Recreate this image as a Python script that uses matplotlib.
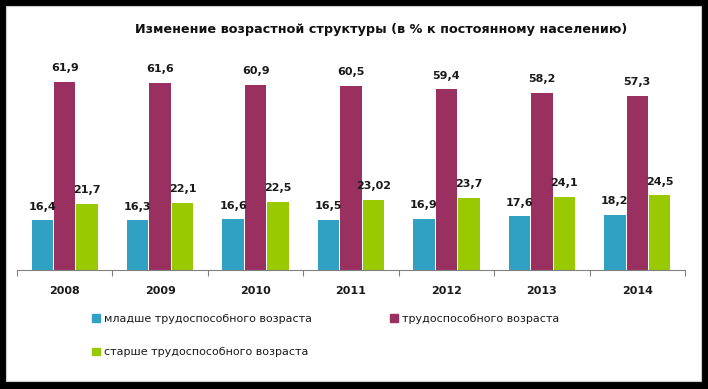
import matplotlib.pyplot as plt
import numpy as np
from matplotlib.patches import Patch, Rectangle

years = ['2008', '2009', '2010', '2011', '2012', '2013', '2014']
young = [16.4, 16.3, 16.6, 16.5, 16.9, 17.6, 18.2]
working = [61.9, 61.6, 60.9, 60.5, 59.4, 58.2, 57.3]
old = [21.7, 22.1, 22.5, 23.02, 23.7, 24.1, 24.5]
young_lbl = ['16,4', '16,3', '16,6', '16,5', '16,9', '17,6', '18,2']
working_lbl = ['61,9', '61,6', '60,9', '60,5', '59,4', '58,2', '57,3']
old_lbl = ['21,7', '22,1', '22,5', '23,02', '23,7', '24,1', '24,5']
names = ['младше трудоспособного возраста',
         'трудоспособного возраста',
         'старше трудоспособного возраста']
colors = ['#30A1C2', '#99305F', '#99C900']

W, H = 708, 389
fig = plt.figure(figsize=(W / 100, H / 100), dpi=100, facecolor='black')
# white card inside the black frame
fig.patches.append(Rectangle((6 / W, 8 / H), 695 / W, 375 / H, transform=fig.transFigure,
                             facecolor='white', edgecolor='#cccccc', lw=0.8, zorder=-5))

ax = fig.add_axes([17 / W, 119 / H, 668 / W, 213 / H])
ax.set_facecolor('none')
ax.set_zorder(2)
x = np.arange(len(years))
bw = 0.225
step = 0.235
series = [(young, young_lbl), (working, working_lbl), (old, old_lbl)]
for i, (vals, lbls) in enumerate(series):
    pos = x + (i - 1) * step
    ax.bar(pos, vals, width=bw, color=colors[i], zorder=2)
    for p, v, t in zip(pos, vals, lbls):
        ax.text(p, v + 2.8, t, ha='center', va='bottom', fontsize=8,
                fontweight='bold', color='#1a1a1a')

ax.set_xlim(-0.5, len(years) - 0.5)
ax.set_ylim(0, 70)
for s in ['top', 'right', 'left']:
    ax.spines[s].set_visible(False)
ax.spines['bottom'].set_color('#808080')
ax.set_yticks([])
ax.set_xticks(np.arange(len(years) + 1) - 0.5)
ax.set_xticklabels([])
ax.tick_params(axis='x', length=4, color='#808080', direction='out')
for xi, y in zip(x, years):
    ax.text(xi, -5.2, y, ha='center', va='top', fontsize=8, fontweight='bold',
            color='#1a1a1a')

fig.text(381 / W, 1 - 30 / H, 'Изменение возрастной структуры (в % к постоянному населению)',
         ha='center', va='center', fontsize=9.2, fontweight='bold', color='#111111')

handles = [Patch(color=c) for c in colors]
order = [0, 2, 1]
leg = fig.legend([handles[k] for k in order], [names[k] for k in order],
                 ncol=2, frameon=False, fontsize=8,
                 loc='upper left', bbox_to_anchor=(82 / W, 1 - 304 / H),
                 handlelength=0.7, handleheight=0.7, handletextpad=0.4,
                 columnspacing=7.0, labelspacing=2.1)
for t in leg.get_texts():
    t.set_color('#1a1a1a')

fig.savefig('out.png', dpi=100, facecolor='black')
